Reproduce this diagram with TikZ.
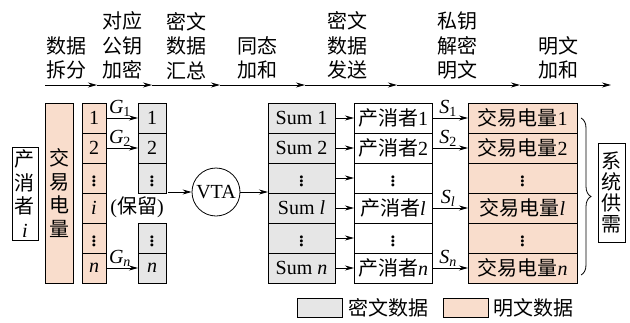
\documentclass[tikz,border=0pt]{standalone}
\usepackage{fontspec}
\setmainfont{Liberation Serif}
\newfontfamily\cjk{Noto Sans CJK SC}
\usetikzlibrary{arrows.meta,decorations.pathreplacing}
\definecolor{salmon}{HTML}{F9DDCC}
\definecolor{cgray}{HTML}{E6E6E6}
\newcommand\bigvd{{\fontsize{25}{25}\selectfont$\vdots$}}
\begin{document}
\begin{tikzpicture}[x=1pt,y=-1pt,
  font=\fontsize{20}{24}\selectfont,
  line width=0.8pt,
  arr/.style={-{Stealth[length=9pt,width=5pt]}},
  cellbox/.style={draw, minimum height=30pt, inner sep=0pt, outer sep=0pt},
  colA/.style={cellbox, fill=salmon, minimum width=24pt},
  colC/.style={cellbox, fill=cgray, minimum width=28pt},
  colD/.style={cellbox, fill=cgray, minimum width=67pt},
  colE/.style={cellbox, fill=white, minimum width=78pt},
  colF/.style={cellbox, fill=salmon, minimum width=109pt},
  tlab/.style={align=center, anchor=south, inner sep=0pt,
    font=\fontsize{20}{24.5}\selectfont\cjk},
  vlab/.style={draw, align=center, inner sep=0pt, outer sep=0pt,
    font=\fontsize{20}{23.5}\selectfont\cjk},
  alab/.style={midway, above=0pt, inner sep=1pt, xshift=-2pt}
]
\useasboundingbox (0,0) rectangle (630,322);

% timeline
\coordinate (t0) at (45,85);
\coordinate (t1) at (97,85);
\coordinate (t2) at (152,85);
\coordinate (t3) at (220,85);
\coordinate (t4) at (305,85);
\coordinate (t5) at (397,85);
\coordinate (t6) at (520,85);
\coordinate (t7) at (611,85);
\draw[arr] (t0) -- (t1);
\draw[arr] (t1) -- (t2);
\draw[arr] (t2) -- (t3);
\draw[arr] (t3) -- (t4);
\draw[arr] (t4) -- (t5);
\draw[arr] (t5) -- (t6);
\draw[arr] (t6) -- (t7);
\node[tlab] (l1) at (66,80) {数据\\拆分};
\node[tlab] (l2) at (122,80) {对应\\公钥\\加密};
\node[tlab] (l3) at (186,80) {密文\\数据\\汇总};
\node[tlab] (l4) at (257,80) {同态\\加和};
\node[tlab] (l5) at (347,80) {密文\\数据\\发送};
\node[tlab] (l6) at (457,80) {私钥\\解密\\明文};
\node[tlab] (l7) at (558,80) {明文\\加和};

% producer i
\node[vlab, minimum width=26pt, minimum height=93pt] (pi) at (25,193.5) {产\\消\\者\\{\rmfamily\itshape i}};
% tall trade box
\node[vlab, fill=salmon, minimum width=28pt, minimum height=180pt] (ta) at (59,193) {交\\易\\电\\量};

% column B
\node[colA] (b1) at (94,118) {1};
\node[colA] (b2) at (94,148) {2};
\node[colA] (b3) at (94,178) {\bigvd};
\node[colA] (b4) at (94,208) {\textit{i}};
\node[colA] (b5) at (94,238) {\bigvd};
\node[colA] (b6) at (94,268) {\textit{n}};

% column C
\node[colC] (c1) at (152,118) {1};
\node[colC] (c2) at (152,148) {2};
\node[colC] (c3) at (152,178) {\bigvd};
\node[inner sep=0pt] (c4) at (137,207) {({\cjk 保留})};
\node[colC] (c5) at (152,238) {\bigvd};
\node[colC] (c6) at (152,268) {\textit{n}};

\draw[arr] (b1) -- (c1) node[alab] {\textit{G}\textsubscript{1}};
\draw[arr] (b2) -- (c2) node[alab] {\textit{G}\textsubscript{2}};
\draw[arr] (b6) -- (c6) node[alab] {\textit{G}\textsubscript{\textit{n}}};

% VTA
\coordinate (cin) at (168,192);
\node[draw, circle, minimum size=48pt, inner sep=0pt] (vta) at (216,192) {VTA};
\draw[arr] (cin) -- (vta);

% column D
\node[colD] (d1) at (301.5,118) {Sum 1};
\node[colD] (d2) at (301.5,148) {Sum 2};
\node[colD] (d3) at (301.5,178) {\bigvd};
\node[colD] (d4) at (301.5,208) {Sum \textit{l}};
\node[colD] (d5) at (301.5,238) {\bigvd};
\node[colD] (d6) at (301.5,268) {Sum \textit{n}};
\draw[arr] (vta) -- (vta -| d4.west);

% column E
\node[colE] (e1) at (393,118) {{\cjk 产消者}1};
\node[colE] (e2) at (393,148) {{\cjk 产消者}2};
\node[colE] (e3) at (393,178) {\bigvd};
\node[colE] (e4) at (393,208) {{\cjk 产消者}\textit{l}};
\node[colE] (e5) at (393,238) {\bigvd};
\node[colE] (e6) at (393,268) {{\cjk 产消者}\textit{n}};
\draw[arr] (d1) -- (e1);
\draw[arr] (d2) -- (e2);
\draw[arr] (d3) -- (e3);
\draw[arr] (d4) -- (e4);
\draw[arr] (d5) -- (e5);
\draw[arr] (d6) -- (e6);

% column F
\node[colF] (f1) at (522.5,118) {{\cjk 交易电量}1};
\node[colF] (f2) at (522.5,148) {{\cjk 交易电量}2};
\node[colF] (f3) at (522.5,178) {\bigvd};
\node[colF] (f4) at (522.5,208) {{\cjk 交易电量}\textit{l}};
\node[colF] (f5) at (522.5,238) {\bigvd};
\node[colF] (f6) at (522.5,268) {{\cjk 交易电量}\textit{n}};
\draw[arr] (e1) -- (f1) node[alab] {\textit{S}\textsubscript{1}};
\draw[arr] (e2) -- (f2) node[alab] {\textit{S}\textsubscript{2}};
\draw[arr] (e4) -- (f4) node[alab] {\textit{S}\textsubscript{\textit{l}}};
\draw[arr] (e6) -- (f6) node[alab] {\textit{S}\textsubscript{\textit{n}}};

% brace and system box
\coordinate (bt) at (581,118);
\coordinate (bb) at (581,275);
\draw[decorate, decoration={brace, amplitude=10pt}] (bt) -- (bb);
\node[vlab, minimum width=27pt, minimum height=99pt,
  font=\fontsize{20}{21}\selectfont\cjk] (sys) at (611.5,192.5) {系\\统\\供\\需};

% legend
\node[draw, fill=cgray, minimum width=45pt, minimum height=19pt, inner sep=0pt] (lg1) at (319.5,307.5) {};
\node[anchor=west, inner sep=0pt, font=\fontsize{20}{24}\selectfont\cjk] (lt1) at (348,307.5) {密文数据};
\node[draw, fill=salmon, minimum width=45pt, minimum height=19pt, inner sep=0pt] (lg2) at (465.5,307.5) {};
\node[anchor=west, inner sep=0pt, font=\fontsize{20}{24}\selectfont\cjk] (lt2) at (493,307.5) {明文数据};
\end{tikzpicture}
\end{document}
